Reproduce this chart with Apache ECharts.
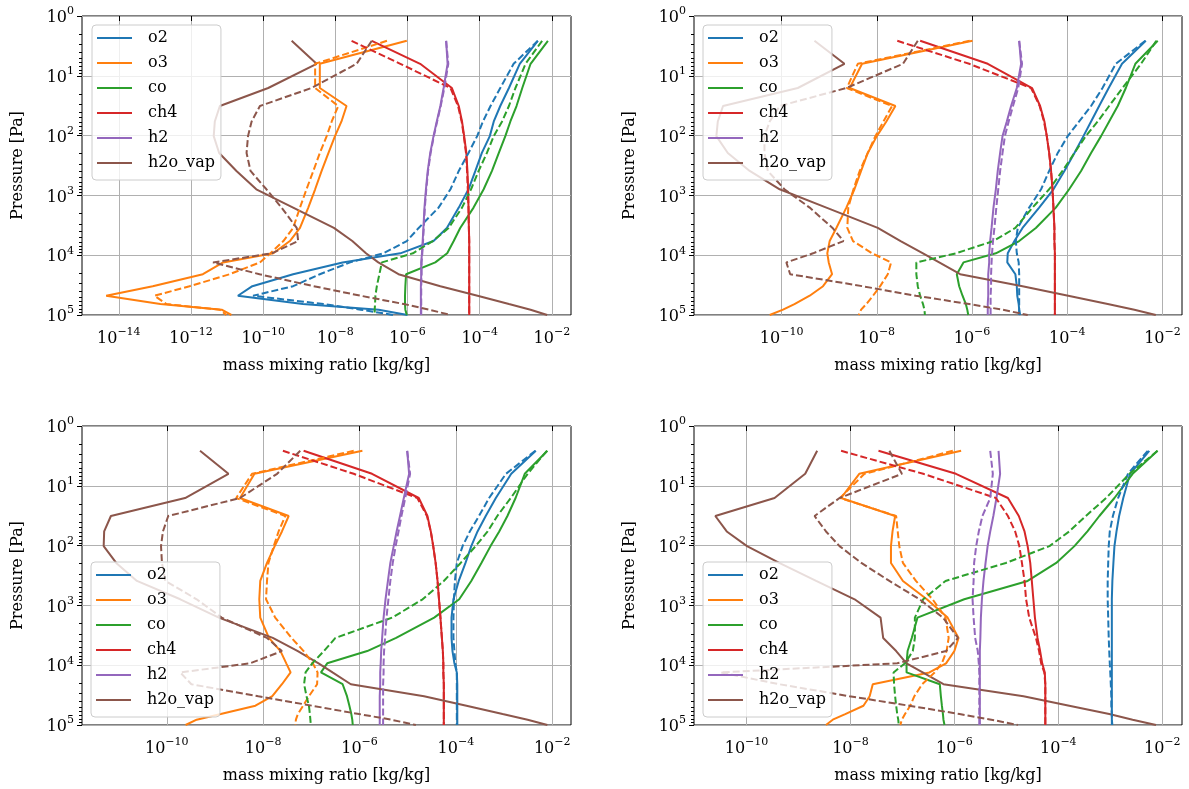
<!DOCTYPE html>
<html><head><meta charset="utf-8">
<script src="https://cdn.jsdelivr.net/npm/echarts@6/dist/echarts.min.js"></script>
<style>html,body{margin:0;padding:0;background:#fff}#chart{width:1189px;height:789px}</style>
</head><body><div id="chart"></div>
<script>
// Pressure levels [Pa] shared by every profile (top -> surface)
const LEVELS_PA = [2.6, 6.3, 16, 32, 58, 102, 195, 390, 790, 1600, 3500, 5800, 9300, 13200, 20800, 33000, 47600, 65600, 81500, 100000];
const SPECIES = ['o2', 'o3', 'co', 'ch4', 'h2', 'h2o_vap'];
const COLORS = ['#1f77b4', '#ff7f0e', '#2ca02c', '#d62728', '#9467bd', '#8c564b'];

// Values below: log10 of mass mixing ratio [kg/kg], one per pressure level.
// Panel 1 (top-left)
const p1_o2     = [-2.39, -2.89, -3.19, -3.43, -3.61, -3.72, -3.94, -4.12, -4.31, -4.58, -4.91, -5.28, -6.2, -7.8, -9.17, -10.3, -10.7, -8.9, -6.8, -6.0];
const p1_o2_d   = [-2.39, -3.06, -3.43, -3.70, -3.91, -4.07, -4.31, -4.58, -4.81, -5.14, -5.69, -6.02, -6.67, -7.59, -8.43, -9.17, -10.28, -8.33, -7.3, -6.39];
const p1_o3     = [-6.02, -8.43, -8.43, -7.69, -7.83, -8.01, -8.19, -8.38, -8.56, -8.75, -8.98, -9.26, -9.72, -11.11, -11.67, -13.06, -14.35, -12.85, -11.15, -10.88];
const p1_o3_d   = [-6.57, -8.56, -8.56, -7.92, -8.10, -8.24, -8.43, -8.61, -8.80, -8.98, -9.17, -9.44, -9.8, -10.09, -10.93, -12.04, -13.01, -12.68, -11.20, -11.02];
const p1_co     = [-2.11, -2.59, -2.82, -2.98, -3.15, -3.29, -3.47, -3.66, -3.89, -4.17, -4.54, -4.72, -4.9, -5.23, -6.04, -6.06, -6.07, -6.07, -6.06, -6.02];
const p1_co_d   = [-2.27, -2.73, -3.01, -3.19, -3.38, -3.61, -3.80, -4.03, -4.24, -4.49, -4.86, -5.3, -5.85, -6.71, -6.78, -6.85, -6.89, -6.90, -6.91, -6.91];
const p1_ch4    = [-6.99, -5.65, -4.77, -4.58, -4.49, -4.43, -4.37, -4.34, -4.32, -4.31, -4.30, -4.29, -4.29, -4.29, -4.29, -4.29, -4.29, -4.29, -4.29, -4.29];
const p1_ch4_d  = [-7.55, -6.2, -4.81, -4.60, -4.50, -4.44, -4.38, -4.35, -4.33, -4.31, -4.30, -4.29, -4.29, -4.29, -4.29, -4.29, -4.29, -4.29, -4.29, -4.29];
const p1_h2     = [-4.93, -4.89, -5.00, -5.09, -5.19, -5.28, -5.37, -5.44, -5.49, -5.53, -5.56, -5.58, -5.60, -5.62, -5.62, -5.63, -5.63, -5.63, -5.63, -5.63];
const p1_h2_d   = [-4.93, -4.87, -4.98, -5.08, -5.18, -5.27, -5.36, -5.43, -5.48, -5.52, -5.55, -5.57, -5.59, -5.61, -5.61, -5.62, -5.62, -5.62, -5.62, -5.62];
const p1_h2o    = [-9.21, -8.52, -9.86, -11.20, -11.34, -11.37, -11.22, -10.74, -10.19, -9.17, -8.04, -7.53, -7.15, -6.81, -6.25, -5.09, -4.06, -3.19, -2.59, -2.13];
const p1_h2o_d  = [-6.99, -7.41, -8.66, -10.09, -10.32, -10.42, -10.46, -10.35, -9.91, -9.49, -9.07, -9.03, -9.76, -11.39, -10.1, -8.6, -7.3, -6.1, -5.4, -4.81];
// Panel 2 (top-right)
const p2_o2     = [-2.35, -2.85, -3.13, -3.33, -3.50, -3.66, -3.85, -4.06, -4.29, -4.59, -4.94, -5.11, -5.25, -5.26, -5.09, -5.06, -5.05, -5.02, -5.01, -4.99];
const p2_o2_d   = [-2.36, -2.98, -3.26, -3.50, -3.75, -3.99, -4.20, -4.38, -4.55, -4.80, -5.04, -5.08, -5.06, -5.02, -5.01, -5.01, -5.01, -5.01, -5.01, -5.01];
const p2_o3     = [-5.99, -8.31, -8.57, -7.61, -7.80, -8.00, -8.19, -8.33, -8.47, -8.64, -8.85, -8.99, -9.04, -9.01, -8.94, -9.13, -9.41, -9.73, -9.97, -10.25];
const p2_o3_d   = [-6.05, -8.40, -8.63, -7.68, -7.86, -8.03, -8.19, -8.36, -8.49, -8.60, -8.62, -8.50, -8.1, -7.70, -7.77, -7.93, -8.08, -8.22, -8.33, -8.38];
const p2_co     = [-2.10, -2.57, -2.77, -2.94, -3.12, -3.29, -3.50, -3.71, -3.96, -4.24, -4.66, -5.01, -5.50, -6.18, -6.32, -6.27, -6.20, -6.13, -6.10, -6.08];
const p2_co_d   = [-2.13, -2.45, -2.84, -3.12, -3.36, -3.61, -3.85, -4.10, -4.38, -4.73, -5.09, -5.55, -6.34, -7.17, -7.17, -7.14, -7.09, -7.03, -7.00, -6.99];
const p2_ch4    = [-7.09, -5.67, -4.74, -4.57, -4.48, -4.43, -4.38, -4.34, -4.31, -4.29, -4.27, -4.27, -4.26, -4.26, -4.26, -4.26, -4.26, -4.26, -4.26, -4.26];
const p2_ch4_d  = [-7.57, -6.06, -4.76, -4.58, -4.49, -4.43, -4.38, -4.34, -4.31, -4.29, -4.27, -4.27, -4.26, -4.26, -4.26, -4.26, -4.26, -4.26, -4.26, -4.26];
const p2_h2     = [-5.01, -4.97, -5.06, -5.18, -5.27, -5.36, -5.41, -5.46, -5.50, -5.55, -5.59, -5.62, -5.64, -5.64, -5.66, -5.66, -5.66, -5.67, -5.67, -5.67];
const p2_h2_d   = [-5.01, -4.95, -5.03, -5.14, -5.23, -5.31, -5.36, -5.41, -5.45, -5.49, -5.53, -5.56, -5.58, -5.59, -5.60, -5.60, -5.61, -5.61, -5.61, -5.61];
const p2_h2o    = [-9.31, -8.68, -9.66, -11.23, -11.34, -11.37, -11.13, -10.67, -10.04, -9.06, -7.98, -7.50, -7.03, -6.69, -6.25, -4.94, -3.98, -3.15, -2.59, -2.14];
const p2_h2o_d  = [-7.14, -7.45, -8.64, -10.04, -10.25, -10.36, -10.36, -10.29, -9.94, -9.41, -8.93, -8.70, -9.34, -9.90, -9.82, -8.30, -7.18, -6.06, -5.36, -4.83];
// Panel 3 (bottom-left)
const p3_o2     = [-2.34, -2.85, -3.17, -3.38, -3.55, -3.68, -3.80, -3.94, -4.05, -4.09, -4.09, -4.07, -4.03, -3.98, -3.97, -3.97, -3.97, -3.97, -3.97, -3.97];
const p3_o2_d   = [-2.35, -2.96, -3.31, -3.52, -3.71, -3.86, -3.98, -4.02, -4.04, -4.05, -4.05, -4.03, -4.01, -3.98, -3.98, -3.98, -3.98, -3.98, -3.98, -3.98];
const p3_o3     = [-5.94, -8.18, -8.48, -7.47, -7.61, -7.76, -7.92, -8.06, -8.08, -8.06, -7.88, -7.64, -7.52, -7.43, -7.61, -7.81, -8.16, -8.88, -9.38, -9.61];
const p3_o3_d   = [-6.12, -8.23, -8.56, -7.54, -7.68, -7.78, -7.89, -7.92, -7.94, -7.75, -7.41, -7.16, -6.97, -6.87, -6.88, -7.05, -7.17, -7.28, -7.32, -7.33];
const p3_co     = [-2.10, -2.57, -2.76, -2.93, -3.10, -3.28, -3.47, -3.68, -3.93, -4.45, -5.24, -5.84, -6.67, -6.80, -6.35, -6.26, -6.21, -6.17, -6.15, -6.14];
const p3_co_d   = [-2.11, -2.51, -2.86, -3.14, -3.34, -3.59, -3.90, -4.25, -4.69, -5.32, -6.50, -6.74, -6.98, -7.12, -7.15, -7.10, -7.05, -7.03, -7.02, -7.01];
const p3_ch4    = [-7.16, -5.74, -4.77, -4.59, -4.52, -4.47, -4.42, -4.38, -4.35, -4.32, -4.29, -4.27, -4.26, -4.26, -4.25, -4.25, -4.25, -4.25, -4.25, -4.25];
const p3_ch4_d  = [-7.59, -6.12, -4.80, -4.60, -4.52, -4.47, -4.42, -4.38, -4.35, -4.32, -4.29, -4.27, -4.26, -4.26, -4.25, -4.25, -4.25, -4.25, -4.25, -4.25];
const p3_h2     = [-5.01, -4.97, -5.08, -5.16, -5.23, -5.29, -5.36, -5.41, -5.46, -5.50, -5.53, -5.55, -5.56, -5.57, -5.57, -5.58, -5.58, -5.58, -5.58, -5.58];
const p3_h2_d   = [-5.01, -4.95, -5.05, -5.13, -5.19, -5.25, -5.31, -5.36, -5.40, -5.44, -5.47, -5.49, -5.50, -5.50, -5.51, -5.51, -5.51, -5.51, -5.51, -5.51];
const p3_h2o    = [-9.31, -8.72, -9.62, -11.16, -11.30, -11.31, -11.05, -10.62, -9.72, -8.92, -7.80, -7.28, -6.85, -6.56, -6.18, -4.66, -3.78, -3.03, -2.51, -2.10];
const p3_h2o_d  = [-7.23, -7.71, -8.48, -9.97, -10.08, -10.12, -10.10, -10.03, -9.38, -8.86, -7.92, -7.61, -8.27, -9.72, -9.49, -8.10, -6.98, -6.01, -5.34, -4.83];
// Panel 4 (bottom-right)
const p4_o2     = [-2.25, -2.62, -2.75, -2.83, -2.88, -2.92, -2.94, -2.96, -2.97, -2.97, -2.97, -2.97, -2.97, -2.97, -2.97, -2.97, -2.97, -2.97, -2.97, -2.96];
const p4_o2_d   = [-2.28, -2.66, -2.85, -2.95, -3.01, -3.03, -3.04, -3.05, -3.05, -3.04, -3.03, -3.02, -3.01, -3.00, -2.99, -2.98, -2.98, -2.97, -2.97, -2.97];
const p4_o3     = [-5.87, -7.83, -8.18, -7.14, -7.19, -7.22, -7.22, -6.99, -6.53, -6.13, -5.92, -6.00, -6.16, -6.48, -7.57, -7.63, -7.75, -8.10, -8.34, -8.47];
const p4_o3_d   = [-6.03, -7.73, -8.20, -7.12, -7.09, -7.06, -6.99, -6.74, -6.42, -6.17, -6.11, -6.15, -6.24, -6.38, -6.62, -6.77, -6.85, -6.95, -7.01, -7.04];
const p4_co     = [-2.09, -2.57, -2.92, -3.21, -3.44, -3.69, -4.04, -4.59, -5.81, -6.71, -6.82, -6.90, -6.92, -6.92, -6.28, -6.26, -6.24, -6.22, -6.21, -6.19];
const p4_co_d   = [-2.09, -2.63, -3.08, -3.47, -3.79, -4.17, -5.01, -6.17, -6.60, -6.76, -6.76, -6.80, -6.95, -7.17, -7.16, -7.14, -7.12, -7.10, -7.08, -7.07];
const p4_ch4    = [-7.46, -5.97, -4.97, -4.76, -4.65, -4.59, -4.54, -4.51, -4.48, -4.45, -4.40, -4.35, -4.31, -4.26, -4.25, -4.25, -4.25, -4.25, -4.25, -4.25];
const p4_ch4_d  = [-8.18, -6.60, -5.20, -4.97, -4.83, -4.75, -4.70, -4.65, -4.62, -4.56, -4.43, -4.37, -4.33, -4.27, -4.25, -4.25, -4.25, -4.25, -4.25, -4.25];
const p4_h2     = [-5.15, -5.12, -5.19, -5.25, -5.31, -5.36, -5.40, -5.44, -5.47, -5.49, -5.50, -5.51, -5.51, -5.51, -5.51, -5.51, -5.51, -5.51, -5.51, -5.51];
const p4_h2_d   = [-5.31, -5.26, -5.31, -5.46, -5.53, -5.58, -5.62, -5.63, -5.65, -5.63, -5.60, -5.55, -5.53, -5.52, -5.52, -5.52, -5.52, -5.52, -5.52, -5.52];
const p4_h2o    = [-8.64, -8.87, -9.46, -10.60, -10.38, -9.99, -9.37, -8.66, -7.92, -7.42, -7.37, -7.12, -6.92, -6.61, -6.21, -4.67, -3.79, -3.02, -2.57, -2.12];
const p4_h2o_d  = [-7.25, -7.01, -8.21, -8.69, -8.47, -8.21, -7.79, -7.25, -6.67, -6.22, -5.93, -6.16, -7.1, -10.5, -9.37, -8.02, -6.87, -5.90, -5.29, -4.78];

// Axis tick labels (decade exponents)
const X_TICKS_P1 = [-14, -12, -10, -8, -6, -4, -2];
const X_TICKS = [-10, -8, -6, -4, -2];
const Y_TICKS = [0, 1, 2, 3, 4, 5];
const X_TITLE = 'mass mixing ratio [kg/kg]';
const Y_TITLE = 'Pressure [Pa]';

const PANELS = [
  { solid: [p1_o2, p1_o3, p1_co, p1_ch4, p1_h2, p1_h2o], dashed: [p1_o2_d, p1_o3_d, p1_co_d, p1_ch4_d, p1_h2_d, p1_h2o_d], xticks: X_TICKS_P1, xlim: [-15.02, -1.47] },
  { solid: [p2_o2, p2_o3, p2_co, p2_ch4, p2_h2, p2_h2o], dashed: [p2_o2_d, p2_o3_d, p2_co_d, p2_ch4_d, p2_h2_d, p2_h2o_d], xticks: X_TICKS, xlim: [-11.84, -1.59] },
  { solid: [p3_o2, p3_o3, p3_co, p3_ch4, p3_h2, p3_h2o], dashed: [p3_o2_d, p3_o3_d, p3_co_d, p3_ch4_d, p3_h2_d, p3_h2o_d], xticks: X_TICKS, xlim: [-11.76, -1.61] },
  { solid: [p4_o2, p4_o3, p4_co, p4_ch4, p4_h2, p4_h2o], dashed: [p4_o2_d, p4_o3_d, p4_co_d, p4_ch4_d, p4_h2_d, p4_h2o_d], xticks: X_TICKS, xlim: [-11.01, -1.62] }
];

const FONT = 'DejaVu Serif';
const GRIDS = [
  { left: 82, top: 16, width: 489, height: 299 },
  { left: 694, top: 16, width: 488, height: 299 },
  { left: 82, top: 426, width: 489, height: 299 },
  { left: 694, top: 426, width: 488, height: 299 }
];
const LEGEND_POS = [
  { left: 92, top: 25 }, { left: 703, top: 25 },
  { left: 91, top: 562 }, { left: 703, top: 562 }
];

const MINOR_Y = [];
for (let n = 0; n < 5; n++) for (let k = 2; k <= 9; k++) MINOR_Y.push(n + Math.log10(k));

function supLabel(v) {
  const e = Math.round(v);
  const s = e < 0 ? '\u2212' + Math.abs(e) : String(e);
  return '{b|10}{s|' + s + '}';
}
const RICH = {
  b: { fontFamily: FONT, fontSize: 16, color: '#000', lineHeight: 20, verticalAlign: 'bottom' },
  s: { fontFamily: FONT, fontSize: 11, color: '#000', lineHeight: 11, verticalAlign: 'top' }
};

const grid = [], xAxis = [], yAxis = [], series = [], legend = [];
PANELS.forEach((pan, g) => {
  grid.push(Object.assign({ show: true, borderColor: '#000', borderWidth: 1, backgroundColor: 'transparent', containLabel: false }, GRIDS[g]));
  xAxis.push({
    type: 'value', gridIndex: g, min: pan.xlim[0], max: pan.xlim[1], position: 'bottom',
    name: X_TITLE, nameLocation: 'middle', nameGap: 43,
    nameTextStyle: { fontFamily: FONT, fontSize: 16, color: '#000' },
    axisLine: { show: false },
    axisTick: { show: true, inside: false, length: 5, customValues: pan.xticks, lineStyle: { color: '#000', width: 1 } },
    axisLabel: { show: true, margin: 12, customValues: pan.xticks, formatter: supLabel, rich: RICH },
    splitLine: { show: true, lineStyle: { color: '#b0b0b0', width: 1 } }
  });
  yAxis.push({
    type: 'value', gridIndex: g, min: 0, max: 5, interval: 1, inverse: true, position: 'left',
    name: Y_TITLE, nameLocation: 'middle', nameGap: 56, nameRotate: 90,
    nameTextStyle: { fontFamily: FONT, fontSize: 16, color: '#000' },
    axisLine: { show: false },
    axisTick: { show: true, inside: false, length: 5, customValues: Y_TICKS, lineStyle: { color: '#000', width: 1 } },
    axisLabel: { show: true, margin: 8, customValues: Y_TICKS, formatter: supLabel, rich: RICH },
    splitLine: { show: true, lineStyle: { color: '#b0b0b0', width: 1 } }
  });
  legend.push(Object.assign({
    orient: 'vertical', data: SPECIES, selectedMode: false,
    itemWidth: 35, itemHeight: 2, itemGap: 9,
    padding: [5, 6, 9, 4],
    backgroundColor: 'rgba(255,255,255,0.8)', borderColor: '#cccccc', borderWidth: 1, borderRadius: 4,
    textStyle: { fontFamily: FONT, fontSize: 16, color: '#000', padding: [0, 0, 0, 11] },
    z: 10
  }, LEGEND_POS[g]));
});
// minor log ticks on the pressure axes
PANELS.forEach((pan, g) => {
  yAxis.push({
    type: 'value', gridIndex: g, min: 0, max: 5, inverse: true, position: 'left', offset: 0,
    axisLine: { show: false }, axisLabel: { show: false }, splitLine: { show: false },
    axisTick: { show: true, inside: false, length: 3, customValues: MINOR_Y, lineStyle: { color: '#000', width: 1 } }
  });
});

function mkSeries(name, color, vals, g, type) {
  return {
    type: 'line', name: name, xAxisIndex: g, yAxisIndex: g,
    data: LEVELS_PA.map((p, i) => [vals[i], Math.log10(p)]),
    symbol: 'none', showSymbol: false, silent: true, clip: true,
    lineStyle: { color: color, width: 2, type: type },
    itemStyle: { color: color },
    emphasis: { disabled: true }, z: 2
  };
}
PANELS.forEach((pan, g) => {
  SPECIES.forEach((sp, k) => series.push(mkSeries(sp, COLORS[k], pan.solid[k], g, 'solid')));
  SPECIES.forEach((sp, k) => series.push(mkSeries(sp, COLORS[k], pan.dashed[k], g, [7, 3])));
});

const chart = echarts.init(document.getElementById('chart'), null, { renderer: 'canvas' });
chart.setOption({
  animation: false,
  backgroundColor: '#ffffff',
  textStyle: { fontFamily: FONT },
  grid: grid, xAxis: xAxis, yAxis: yAxis, legend: legend, series: series
});
</script></body></html>
